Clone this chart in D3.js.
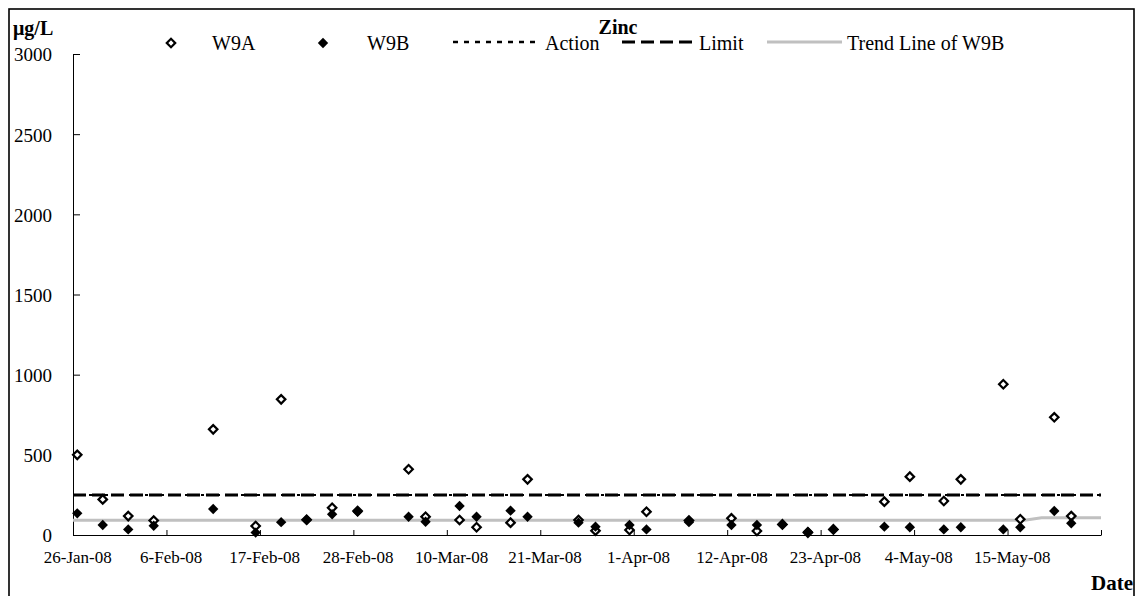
<!DOCTYPE html>
<html>
<head>
<meta charset="utf-8">
<script src="https://cdn.jsdelivr.net/npm/d3@7"></script>
<style>
  body { margin: 0; background: #fff; }
  text { font-family: "Liberation Serif", "Times New Roman", serif; fill: #000; }
</style>
</head>
<body>
<div id="graf"></div>
<script>
// Datos
const fechas = [
  '2008-01-26', '2008-01-29', '2008-02-01', '2008-02-04', '2008-02-11', '2008-02-16',
  '2008-02-19', '2008-02-22', '2008-02-25', '2008-02-28', '2008-03-05', '2008-03-07',
  '2008-03-11', '2008-03-13', '2008-03-17', '2008-03-19', '2008-03-25', '2008-03-27',
  '2008-03-31', '2008-04-02', '2008-04-07', '2008-04-12', '2008-04-15', '2008-04-18',
  '2008-04-21', '2008-04-24', '2008-04-30', '2008-05-03', '2008-05-07', '2008-05-09',
  '2008-05-14', '2008-05-16', '2008-05-20', '2008-05-22'
]
const w9a = [
  500, 222, 118, 90, 659, 56, 846, 95, 170, 150, 410, 114,
  94, 48, 77, 347, 94, 27, 31, 145, 90, 104, 25, 66,
  15, 35, 208, 364, 212, 347, 940, 98, 734, 118
]
const w9b = [
  135, 62, 35, 58, 162, 15, 80, 94, 129, 145, 114, 83,
  181, 114, 152, 114, 77, 52, 62, 35, 80, 62, 62, 66,
  21, 35, 52, 48, 35, 48, 35, 48, 150, 73
]
const accion = 250
const limite = 250
const tendenciaFechas = ['2008-01-26', '2008-05-17', '2008-05-19', '2008-05-26']
const tendenciaValores = [92, 92, 108, 108]
const yTicks = [0, 500, 1000, 1500, 2000, 2500, 3000]
const xTickLabels = [
  '26-Jan-08', '6-Feb-08', '17-Feb-08', '28-Feb-08', '10-Mar-08', '21-Mar-08',
  '1-Apr-08', '12-Apr-08', '23-Apr-08', '4-May-08', '15-May-08'
]
const xFin = '26-May-08'

const parseFecha = d3.timeParse('%Y-%m-%d')
const parseTick = d3.timeParse('%d-%b-%y')

const draw = () => {
  const anchoTotal = 1136
  const altoTotal = 596
  const margins = { top: 54, right: 35, bottom: 61, left: 73 }
  const ancho = anchoTotal - margins.left - margins.right
  const alto = altoTotal - margins.top - margins.bottom

  const svg = d3.select('#graf')
    .append('svg')
    .attr('width', anchoTotal)
    .attr('height', altoTotal)

  // Marco exterior
  svg.append('rect')
    .attr('x', 9)
    .attr('y', 9)
    .attr('width', 1125)
    .attr('height', 620)
    .attr('fill', 'white')
    .attr('stroke', '#000')
    .attr('stroke-width', 1.6)

  const g = svg.append('g')
    .attr('transform', `translate(${margins.left}, ${margins.top})`)

  // Escaladores
  const ticksFecha = xTickLabels.map(parseTick)
  const x = d3.scaleTime()
    .domain([ticksFecha[0], parseTick(xFin)])
    .range([0, ancho])

  const y = d3.scaleLinear()
    .domain([0, 3000])
    .range([alto, 0])

  // Cada dato va al centro de su dia
  const xDia = (f) => x(d3.timeHour.offset(f, 12))
  const medioDia = xDia(ticksFecha[0]) - x(ticksFecha[0])

  const data = fechas.map((f, i) => ({ fecha: parseFecha(f), a: w9a[i], b: w9b[i] }))
  const tendencia = tendenciaFechas.map((f, i) => ({ fecha: parseFecha(f), v: tendenciaValores[i] }))

  // Eje Y
  const yAxisGroup = g.append('g')
    .call(d3.axisLeft(y)
      .tickValues(yTicks)
      .tickFormat(d3.format('d'))
      .tickSizeInner(-7)
      .tickSizeOuter(0)
      .tickPadding(21))
  yAxisGroup.selectAll('text').style('font-size', '19px').attr('dy', '0.36em')
  yAxisGroup.selectAll('path, line').attr('stroke', '#000')

  // Eje X
  const xAxisGroup = g.append('g')
    .attr('transform', `translate(0, ${alto})`)
    .call(d3.axisBottom(x)
      .tickValues([...ticksFecha, parseTick(xFin)])
      .tickFormat((d, i) => i < xTickLabels.length ? xTickLabels[i] : '')
      .tickSizeInner(-5)
      .tickSizeOuter(0)
      .tickPadding(16))
  xAxisGroup.selectAll('text').style('font-size', '17px').attr('dx', medioDia)
  xAxisGroup.selectAll('path, line').attr('stroke', '#000')

  // Linea de tendencia
  g.append('path')
    .datum(tendencia)
    .attr('fill', 'none')
    .attr('stroke', '#c0c0c0')
    .attr('stroke-width', 3)
    .attr('d', d3.line().x((d) => x(d.fecha)).y((d) => y(d.v)))

  // Lineas de accion y limite
  g.append('line')
    .attr('x1', 0).attr('x2', ancho)
    .attr('y1', y(limite)).attr('y2', y(limite))
    .attr('stroke', '#000')
    .attr('stroke-width', 3)
    .attr('stroke-dasharray', '13,6')

  g.append('line')
    .attr('x1', 0).attr('x2', ancho)
    .attr('y1', y(accion)).attr('y2', y(accion))
    .attr('stroke', '#000')
    .attr('stroke-width', 2)
    .attr('stroke-dasharray', '3,5')

  // Puntos
  const abierto = d3.symbol(d3.symbolSquare, 36)
  const lleno = d3.symbol(d3.symbolSquare, 54)

  g.selectAll('.w9a')
    .data(data)
    .join('path')
    .attr('class', 'w9a')
    .attr('d', abierto)
    .attr('transform', (d) => `translate(${xDia(d.fecha)}, ${y(d.a)}) rotate(45)`)
    .attr('fill', 'white')
    .attr('stroke', '#000')
    .attr('stroke-width', 2.2)

  g.selectAll('.w9b')
    .data(data)
    .join('path')
    .attr('class', 'w9b')
    .attr('d', lleno)
    .attr('transform', (d) => `translate(${xDia(d.fecha)}, ${y(d.b)}) rotate(45)`)
    .attr('fill', '#000')

  // Leyenda
  const leyenda = svg.append('g').style('font-size', '20px')
  const yLey = 43

  leyenda.append('path')
    .attr('d', abierto)
    .attr('transform', `translate(171, ${yLey}) rotate(45)`)
    .attr('fill', 'white').attr('stroke', '#000').attr('stroke-width', 2.2)
  leyenda.append('text').attr('x', 212).attr('y', yLey + 7).text('W9A')

  leyenda.append('path')
    .attr('d', lleno)
    .attr('transform', `translate(323, ${yLey}) rotate(45)`)
    .attr('fill', '#000')
  leyenda.append('text').attr('x', 367).attr('y', yLey + 7).text('W9B')

  leyenda.append('line')
    .attr('x1', 453).attr('x2', 537).attr('y1', yLey - 1).attr('y2', yLey - 1)
    .attr('stroke', '#000').attr('stroke-width', 2.5).attr('stroke-dasharray', '5,6')
  leyenda.append('text').attr('x', 545).attr('y', yLey + 7).text('Action')

  leyenda.append('line')
    .attr('x1', 622).attr('x2', 694).attr('y1', yLey - 1).attr('y2', yLey - 1)
    .attr('stroke', '#000').attr('stroke-width', 3).attr('stroke-dasharray', '13,6')
  leyenda.append('text').attr('x', 699).attr('y', yLey + 7).text('Limit')

  leyenda.append('line')
    .attr('x1', 767).attr('x2', 842).attr('y1', yLey - 1).attr('y2', yLey - 1)
    .attr('stroke', '#c0c0c0').attr('stroke-width', 3)
  leyenda.append('text').attr('x', 847).attr('y', yLey + 7).text('Trend Line of W9B')

  // Titulos
  svg.append('text')
    .attr('x', 618).attr('y', 34)
    .attr('text-anchor', 'middle')
    .style('font-size', '20px').style('font-weight', 'bold')
    .text('Zinc')

  svg.append('text')
    .attr('x', 13).attr('y', 35)
    .style('font-size', '20px').style('font-weight', 'bold')
    .text('μg/L')

  svg.append('text')
    .attr('x', 1133).attr('y', 590)
    .attr('text-anchor', 'end')
    .style('font-size', '21px').style('font-weight', 'bold')
    .text('Date')
}

draw()
</script>
</body>
</html>
